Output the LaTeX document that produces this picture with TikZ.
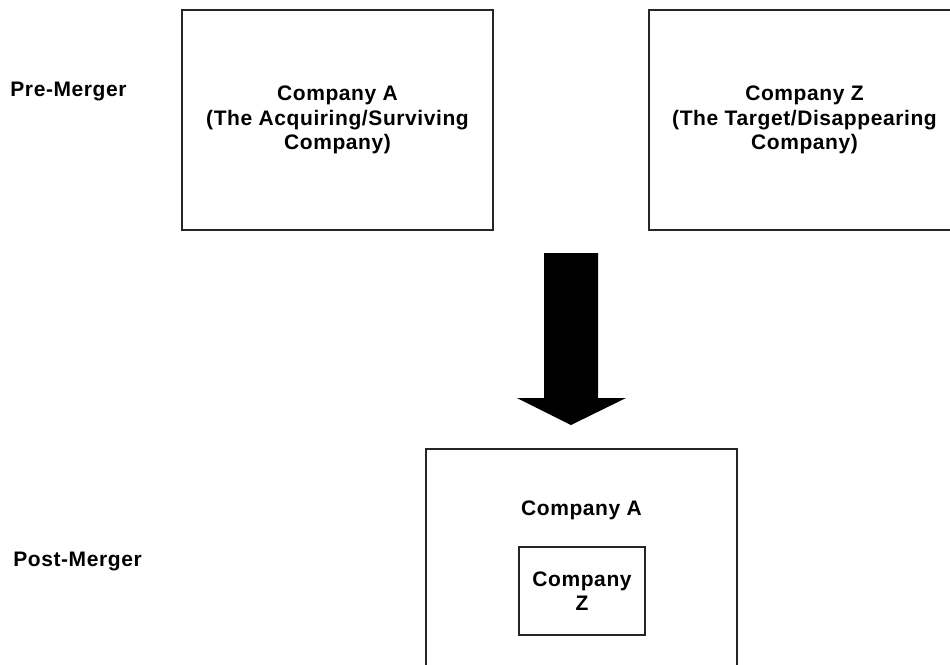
\documentclass[tikz,border=0pt]{standalone}
\usepackage{fontspec}
\setmainfont[LetterSpace=2.8]{Liberation Sans}
\begin{document}
\begin{tikzpicture}[x=1pt,y=-1pt,
  lbl/.style={font=\bfseries\fontsize{21}{24.5}\selectfont, align=center, inner sep=0pt},
  cbox/.style={lbl, draw=black!85, line width=1.2pt, minimum width=311pt, minimum height=220pt},
  smallbox/.style={lbl, draw=black!85, line width=1.2pt, minimum width=126pt, minimum height=88pt},
]
\useasboundingbox (0,0) rectangle (950,664);
\clip (0,0) rectangle (950,664);

% stage labels
\node[lbl] (pre) at (68.5,91) {Pre-Merger};
\node[lbl] (post) at (77.5,561) {Post-Merger};

% before the merger
\node[cbox] (compA) at (337.5,120) {Company A\\(The Acquiring/Surviving\\Company)};
\node[cbox] (compZ) at (804.5,120) {Company Z\\(The Target/Disappearing\\Company)};

% block arrow between the two stages
\coordinate (arrtop) at (571,253);
\coordinate (arrtip) at (571,425);
\fill[black] ([xshift=-27pt]arrtop) -- ([xshift=27pt]arrtop)
  -- ([xshift=27pt]arrtop |- 0,398) -- ([xshift=55pt]arrtop |- 0,398)
  -- (arrtip)
  -- ([xshift=-54pt]arrtop |- 0,398) -- ([xshift=-27pt]arrtop |- 0,398) -- cycle;

% after the merger
\node[cbox] (merged) at (581.5,559) {};
\node[lbl] (mergedA) at (581.5,510.5) {Company A};
\node[smallbox] (innerZ) at (582,591) {Company\\Z};
\end{tikzpicture}
\end{document}
